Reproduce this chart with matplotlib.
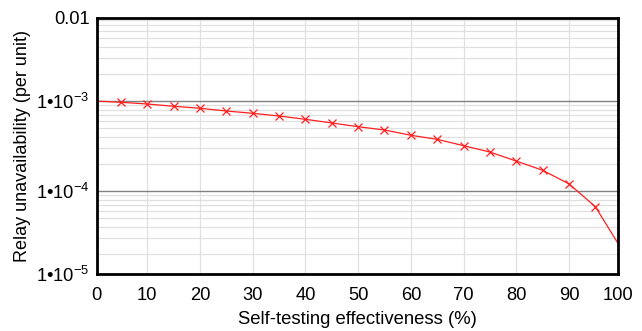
import matplotlib
matplotlib.use("Agg")
import matplotlib.pyplot as plt
import numpy as np

plt.rcParams['font.family'] = ['Liberation Sans', 'DejaVu Sans']
plt.rcParams['mathtext.fontset'] = 'custom'
plt.rcParams['mathtext.rm'] = 'Liberation Sans'
plt.rcParams['mathtext.it'] = 'Liberation Sans:italic'

# Data
effectiveness = [0, 5, 10, 15, 20, 25, 30, 35, 40, 45, 50, 55, 60, 65, 70, 75, 80, 85, 90, 95, 99.3]
unavailability = [1.0e-3, 9.67e-4, 9.26e-4, 8.73e-4, 8.30e-4, 7.74e-4, 7.30e-4, 6.81e-4,
                  6.26e-4, 5.70e-4, 5.18e-4, 4.76e-4, 4.16e-4, 3.75e-4, 3.19e-4, 2.71e-4,
                  2.15e-4, 1.70e-4, 1.20e-4, 6.70e-5, 2.62e-5]
x_labels = ['0', '10', '20', '30', '40', '50', '60', '70', '80', '90', '100']
y_labels = [r'1•10$^{-5}$', r'1•10$^{-4}$', r'1•10$^{-3}$', '0.01']

xmin, xmax = 0.4, 99.3
ymin, ymax = 1.187e-5, 8.42e-3

fig = plt.figure(figsize=(6.42, 3.31), dpi=100)
ax = fig.add_axes([0.1506, 0.1713, 0.9626 - 0.1506, 0.9465 - 0.1713])
ax.set_yscale('log')
ax.set_xlim(xmin, xmax)
ax.set_ylim(ymin, ymax)

# grid lines
for d in [1e-5, 1e-4, 1e-3]:
    for m in range(2, 10):
        v = m * d
        if ymin < v < ymax:
            ax.axhline(v, color='#e0e0e0', lw=0.9, zorder=1)
for v in [1e-4, 1e-3]:
    ax.axhline(v, color='#808080', lw=1.0, zorder=1.5)
for xv in range(10, 100, 10):
    ax.axvline(xv, color='#e0e0e0', lw=0.9, zorder=1)

ax.plot(effectiveness, unavailability, color='#ff2020', lw=0.9, marker='x',
        markersize=5.5, mew=0.9, markevery=list(range(1, len(effectiveness) - 1)), zorder=3)

xt = [xmin] + list(range(10, 100, 10)) + [xmax]
ax.set_xticks(xt)
ax.set_xticklabels(x_labels)
ax.set_yticks([ymin, 1e-4, 1e-3, ymax])
ax.set_yticklabels(y_labels)
ax.minorticks_off()
ax.tick_params(axis='both', length=0, labelsize=13.2, colors='black')
ax.tick_params(axis='x', pad=9)
ax.tick_params(axis='y', pad=5)

for s in ax.spines.values():
    s.set_linewidth(2.0)
    s.set_color('black')
    s.set_zorder(5)

ax.set_xlabel('Self-testing effectiveness (%)', fontsize=13.3, labelpad=5)
ax.set_ylabel('Relay unavailability (per unit)', fontsize=13.0, labelpad=4)

fig.savefig('out.png', dpi=100)
